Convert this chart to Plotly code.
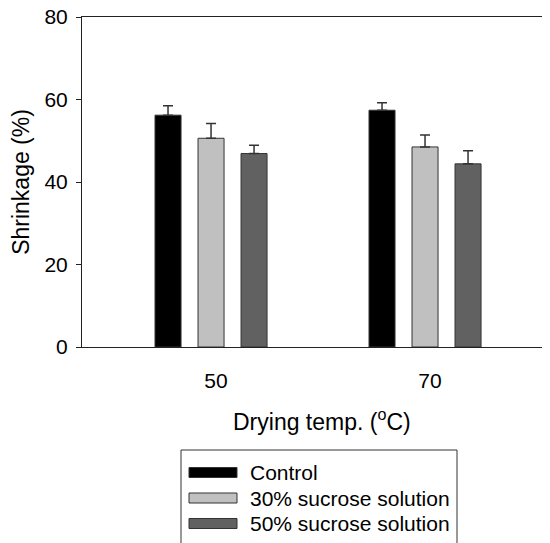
import plotly.graph_objects as go

categories = ["50", "70"]
series_names = ["Control", "30% sucrose solution", "50% sucrose solution"]
values = {
    "Control": [56.2, 57.4],
    "30% sucrose solution": [50.6, 48.5],
    "50% sucrose solution": [46.9, 44.4],
}
errors = {
    "Control": [2.3, 1.8],
    "30% sucrose solution": [3.6, 2.9],
    "50% sucrose solution": [2.0, 3.2],
}
y_ticks = [0, 20, 40, 60, 80]

colors = {"Control": "#000000", "30% sucrose solution": "#C0C0C0", "50% sucrose solution": "#616161"}
font_family = "Arial, Liberation Sans, sans-serif"

# page body has an 8px margin; figure is sized to fill the rest of the window
OFF = 8
W, H = 550 - OFF, 543 - OFF
PL, PT, PB, PR = 82, 17, 347, 550   # plot area in window pixels
L, T = PL - OFF, PT - OFF
B = H - (PB - OFF)
R = W - (PR - OFF)
pw, ph = PR - PL, PB - PT

def px(x):
    return (x - PL) / pw

def py(y):
    return (PB - y) / ph

fig = go.Figure()
for name in series_names:
    fig.add_trace(go.Bar(
        x=categories, y=values[name], name=name,
        marker=dict(color=colors[name], line=dict(color="#333333", width=1)),
        error_y=dict(type="data", symmetric=False, array=errors[name],
                     arrayminus=[0] * len(categories), color="#333333",
                     thickness=1.5, width=5),
        showlegend=False,
    ))

shapes = []
annotations = []
# legend box
shapes.append(dict(type="rect", xref="paper", yref="paper",
                   x0=px(181), x1=px(457), y0=py(560), y1=py(450),
                   line=dict(color="#333333", width=1), fillcolor="rgba(0,0,0,0)"))
for i, name in enumerate(series_names):
    cy = 472.5 + i * 25.5
    shapes.append(dict(type="rect", xref="paper", yref="paper",
                       x0=px(189), x1=px(237), y0=py(cy + 5), y1=py(cy - 5),
                       line=dict(color="#333333", width=1), fillcolor=colors[name]))
    annotations.append(dict(xref="paper", yref="paper", x=px(248), y=py(cy),
                            xanchor="left", yanchor="middle", showarrow=False,
                            text=name, font=dict(size=21, color="#000000", family=font_family)))

annotations.append(dict(xref="paper", yref="paper", x=px(322), y=py(420),
                        xanchor="center", yanchor="middle", showarrow=False,
                        text="Drying temp. (<sup>o</sup>C)",
                        font=dict(size=23, color="#000000", family=font_family)))

fig.update_layout(
    width=W, height=H,
    margin=dict(l=L, r=R, t=T, b=B, autoexpand=False),
    paper_bgcolor="white", plot_bgcolor="white",
    barmode="group", bargap=0.397, bargroupgap=0.395,
    font=dict(family=font_family, color="#000000"),
    shapes=shapes, annotations=annotations,
    xaxis=dict(range=[-0.603, 1.584], showline=True, mirror=True, linecolor="#222222",
               linewidth=1, ticks="", showgrid=False, zeroline=False, automargin=False,
               tickfont=dict(size=21), ticklabelstandoff=15, ticklabelshift=5,
               ticklabeloverflow="allow"),
    yaxis=dict(range=[0, 80], tickvals=y_ticks, showline=True, linecolor="#222222",
               linewidth=1, ticks="outside", ticklen=5, tickcolor="#222222",
               showgrid=False, zeroline=False, tickfont=dict(size=21), automargin=False,
               ticklabelstandoff=4, ticklabeloverflow="allow",
               title=dict(text="Shrinkage (%)", font=dict(size=23), standoff=14)),
)

fig.write_html("out.html")
